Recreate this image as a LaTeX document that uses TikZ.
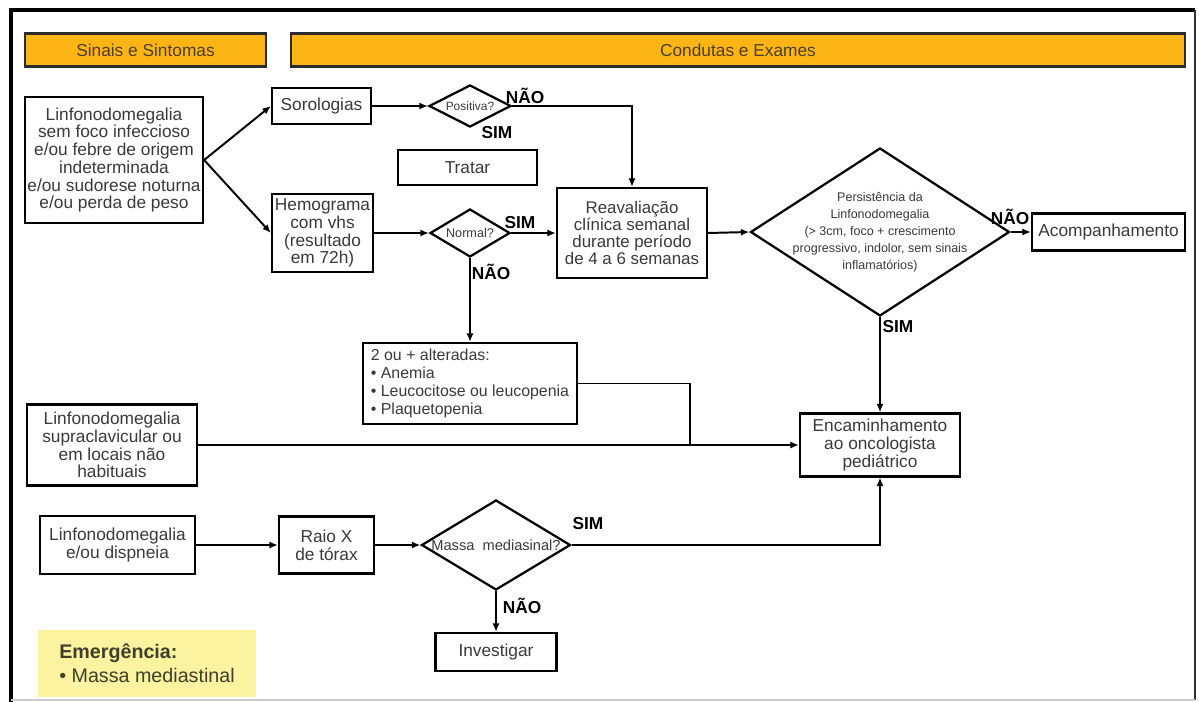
\documentclass[tikz,border=0pt]{standalone}
\usepackage{fontspec}
\setmainfont{Liberation Sans}
\usepackage{tikz}
\usetikzlibrary{shapes.geometric,arrows.meta}
\definecolor{ink}{HTML}{3A3A3A}
\definecolor{hdrfill}{HTML}{FDB515}
\definecolor{hdrline}{HTML}{2B2B2B}
\definecolor{hdrtext}{HTML}{4A3F2A}
\definecolor{emfill}{HTML}{FBF3A0}
\definecolor{emtext}{HTML}{3F3F2A}
\definecolor{frameR}{HTML}{333333}
\def\px{0.025cm}
\tikzset{
  box/.style={draw=black, line width=1.6pt, fill=white, text=ink, inner sep=0pt, align=center, font=\fontsize{12.3}{12.6}\selectfont},
  hdr/.style={draw=hdrline, line width=1.5pt, fill=hdrfill, text=hdrtext, inner sep=0pt, font=\fontsize{12.3}{14}\selectfont},
  dec/.style={diamond, draw=black, line width=1.6pt, fill=white, inner sep=0pt},
  dtxt/.style={text=ink, align=center, inner sep=0pt},
  yn/.style={font=\bfseries\fontsize{12.3}{14}\selectfont, text=black, inner sep=0pt},
  arr/.style={draw=black, line width=1.4pt, -{Latex[length=6pt,width=5pt]}},
  link/.style={draw=black, line width=1.4pt},
}

\begin{document}
\begin{tikzpicture}[x=0.025cm, y=-0.025cm]
  \useasboundingbox (0,0) rectangle (1199,702);
  \fill[white] (0,0) rectangle (1199,702);
  % frame
  \draw[line width=2.2pt] (11,702) -- (11,10) -- (1195,10);
  \draw[line width=1.5pt, draw=frameR] (1195,10) -- (1195,700);
  \draw[line width=0.8pt, draw=black!20] (11,700) -- (1195,700);

  % headers
  \node[hdr, minimum width=241*\px, minimum height=33*\px] (hsin) at (145.5,50) {Sinais e Sintomas};
  \node[hdr, minimum width=894*\px, minimum height=33*\px] (hcon) at (738,50) {Condutas e Exames};

  % boxes and decisions
  \node[box, minimum width=178*\px, minimum height=126*\px] (sint) at (114,160) {Linfonodomegalia\\sem foco infeccioso\\e/ou febre de origem\\indeterminada\\e/ou sudorese noturna\\e/ou perda de peso};
  \node[box, minimum width=99*\px, minimum height=36*\px] (soro) at (321.5,106) {Sorologias};
  \node[dec, minimum width=82*\px, minimum height=42*\px, label={[dtxt,font=\fontsize{8.5}{9}\selectfont]center:{Positiva?}}] (posi) at (470,106) {};
  \node[box, minimum width=139*\px, minimum height=35*\px] (trat) at (467.5,167.5) {Tratar};
  \node[box, minimum width=101*\px, minimum height=78*\px] (hemo) at (322.5,233) {Hemograma\\com vhs\\(resultado\\em 72h)};
  \node[dec, minimum width=80*\px, minimum height=48*\px, label={[dtxt,font=\fontsize{9}{10}\selectfont]center:{Normal?}}] (norm) at (470,233) {};
  \node[box, minimum width=150*\px, minimum height=90*\px, font=\fontsize{12}{12.1}\selectfont] (reav) at (632,233) {Reavaliação\\clínica semanal\\durante período\\de 4 a 6 semanas};
  \node[dec, minimum width=259*\px, minimum height=168*\px, label={[dtxt,font=\fontsize{8.9}{12}\selectfont]center:{Persistência da\\Linfonodomegalia\\(> 3cm, foco + crescimento\\progressivo, indolor, sem sinais\\inflamatórios)}}] (pers) at (880,232) {};
  \node[box, minimum width=153*\px, minimum height=37*\px] (acom) at (1108.5,232) {Acompanhamento};
  \node[box, minimum width=214*\px, minimum height=81*\px, align=left, font=\fontsize{11.3}{12.8}\selectfont] (alte) at (470,383.5) {2 ou + alteradas:\\• Anemia\\• Leucocitose ou leucopenia\\• Plaquetopenia};
  \node[box, minimum width=170*\px, minimum height=81*\px] (supr) at (112,445) {Linfonodomegalia\\supraclavicular ou\\em locais não\\habituais};
  \node[box, minimum width=160*\px, minimum height=63*\px] (enca) at (880,445) {Encaminhamento\\ao oncologista\\pediátrico};
  \node[box, minimum width=155*\px, minimum height=58*\px] (disp) at (117.5,545) {Linfonodomegalia\\e/ou dispneia};
  \node[box, minimum width=95*\px, minimum height=57*\px] (raio) at (326.5,545) {Raio X\\de tórax};
  \node[dec, minimum width=149*\px, minimum height=90*\px, label={[dtxt,font=\fontsize{10.4}{12}\selectfont]center:{Massa~ mediasinal?}}] (mass) at (496,545) {};
  \node[box, minimum width=121*\px, minimum height=38*\px] (inve) at (496,652) {Investigar};
  \node[fill=emfill, minimum width=218*\px, minimum height=67*\px, inner sep=0pt, align=left, text=emtext, font=\fontsize{14}{17}\selectfont] (emer) at (147,663.5) {\textbf{Emergência:}\\• Massa mediastinal};

  % answers
  \node[yn] (posn) at (525,96) {NÃO};
  \node[yn] (poss) at (497,133) {SIM};
  \node[yn] (nors) at (520,223) {SIM};
  \node[yn] (norn) at (491,272) {NÃO};
  \node[yn] (pern) at (1010,217) {NÃO};
  \node[yn] (pesi) at (898,327) {SIM};
  \node[yn] (masi) at (588,524) {SIM};
  \node[yn] (mana) at (522,606) {NÃO};

  % connectors
  \draw[arr] (sint.east) -- (soro.west);
  \draw[arr] (sint.east) -- (hemo.west);
  \draw[arr] (soro.east) -- (posi.west);
  \draw[arr] (posi.east) -| (reav.north);
  \draw[arr] (hemo.east) -- (norm.west);
  \draw[arr] (norm.east) -- (reav.west);
  \draw[arr] (norm.south) -- (alte.north);
  \draw[arr] (reav.east) -- (pers.west);
  \draw[arr] (pers.east) -- (acom.west);
  \draw[arr] (pers.south) -- (enca.north);
  \draw[arr] (supr.east) -- (enca.west);
  \coordinate (junc) at (690,445);
  \draw[link] (alte.east) -| (junc);
  \draw[arr] (disp.east) -- (raio.west);
  \draw[arr] (raio.east) -- (mass.west);
  \draw[arr] (mass.east) -| (enca.south);
  \draw[arr] (mass.south) -- (inve.north);
\end{tikzpicture}
\end{document}
